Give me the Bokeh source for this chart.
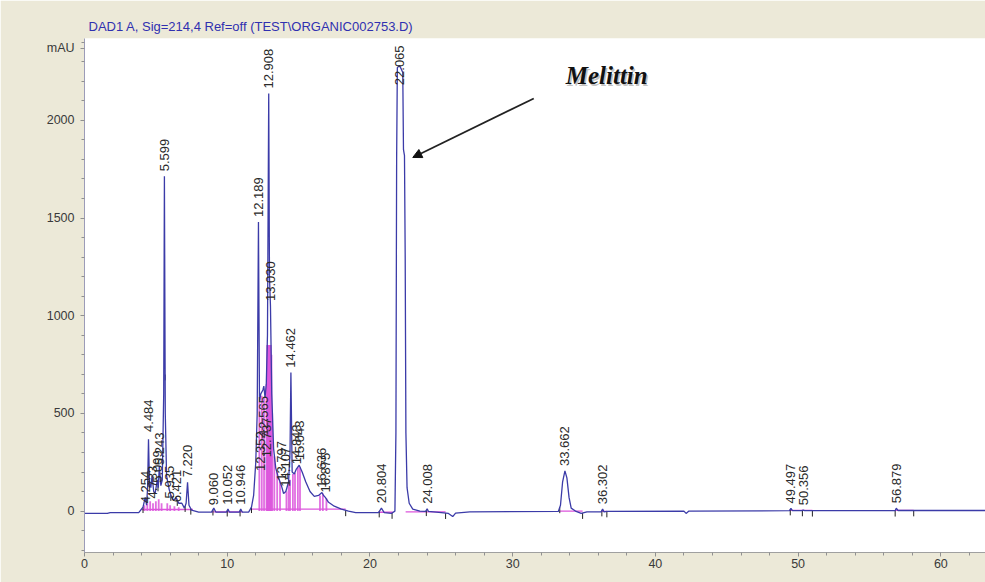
import numpy as np
from bokeh.plotting import figure
from bokeh.models import Range1d, SingleIntervalTicker, FixedTicker, Arrow, NormalHead
from bokeh.core.properties import value
from bokeh.embed import file_html
from bokeh.resources import INLINE

# ---------------- data ----------------
title_text = "DAD1 A, Sig=214,4 Ref=off (TEST\\ORGANIC002753.D)"
y_unit = "mAU"
annotation_text = "Melittin"

y_major = [0, 500, 1000, 1500, 2000]
y_minor = [-200, -100, 100, 200, 300, 400, 600, 700, 800, 900, 1100, 1200, 1300, 1400,
           1600, 1700, 1800, 1900, 2100, 2200, 2300, 2400]
unit_pos = 2370

# chromatogram trace: retention time (min) and signal (mAU)
trace_t = [0.0, 1.6, 1.8, 3.8, 4.1, 4.254, 4.35, 4.42, 4.484, 4.55, 4.65, 4.733, 4.85, 4.95,
           5.099, 5.17, 5.243, 5.35, 5.45, 5.55, 5.599, 5.66, 5.75, 5.935, 6.1, 6.25, 6.421,
           6.6, 6.821, 7.0, 7.12, 7.220, 7.32, 7.5, 8.0, 8.9, 9.060, 9.2, 9.95, 10.052, 10.15,
           10.85, 10.946, 11.05, 11.5, 11.7, 11.85, 12.0, 12.1, 12.189, 12.26, 12.352, 12.5,
           12.565, 12.65, 12.737, 12.82, 12.908, 12.96, 13.030, 13.12, 13.25, 13.4, 13.55,
           13.797, 13.95, 14.107, 14.3, 14.4, 14.462, 14.55, 14.7, 14.843, 15.043, 15.25,
           15.5, 15.8, 16.1, 16.4, 16.636, 16.75, 16.875, 17.1, 17.5, 18.0, 18.5, 19.0, 20.6,
           20.804, 21.0, 21.5, 21.75, 21.82, 21.87, 21.92, 22.065, 22.2, 22.3, 22.35, 22.42,
           22.47, 22.52, 22.6, 22.75, 23.0, 23.5, 23.9, 24.008, 24.1, 25.0, 25.5, 25.8, 26.0,
           27.0, 33.2, 33.35, 33.5, 33.662, 33.8, 33.95, 34.1, 34.4, 34.8, 35.2, 36.2, 36.302,
           36.4, 36.6, 42.0, 42.15, 42.35, 49.4, 49.497, 49.6, 50.25, 50.356, 50.45, 51.0,
           56.8, 56.879, 57.0, 63.2]
trace_mau = [-12, -12, -8, -8, 20, 70, 30, 120, 367, 150, 120, 180, 100, 90,
             160, 120, 230, 130, 160, 600, 1714, 500, 180, 110, 70, 55, 70,
             40, 40, 15, 40, 148, 30, 5, -5, -5, 15, -5, -5, 10, -5,
             -5, 10, -5, -5, 20, 80, 250, 500, 1480, 560, 600, 620,
             640, 580, 650, 900, 2138, 1200, 1050, 600, 320, 220, 180,
             130, 90, 100, 150, 300, 709, 200, 190, 215, 235, 200,
             150, 100, 75, 80, 95, 80, 70, 45, 25, 10, 0, -8, -8,
             15, -8, -12, 0, 400, 1800, 2270, 2280, 2262, 2245, 1850, 1820,
             1300, 400, 120, 40, 10, 0, -2, 12, -2, -8, -12, -28, -10,
             -4, -2, 30, 150, 206, 170, 70, 15, 0, -12, -4, -4, 10,
             -4, -2, 0, -12, 0, 2, 14, 2, 2, 5, 2, 2,
             2, 15, 3, 3]

# integrated peaks: retention-time labels and apex heights (mAU)
peak_labels = ["4.254", "4.484", "4.733", "5.099", "5.243", "5.599", "5.935", "6.421", "7.220",
               "9.060", "10.052", "10.946", "12.189", "12.352", "12.565", "12.737", "12.908",
               "13.030", "13.797", "14.107", "14.462", "14.843", "15.043", "16.636", "16.875",
               "20.804", "22.065", "24.008", "33.662", "36.302", "49.497", "50.356", "56.879"]
peak_rt = [4.254, 4.484, 4.733, 5.099, 5.243, 5.599, 5.935, 6.421, 7.220,
           9.060, 10.052, 10.946, 12.189, 12.352, 12.565, 12.737, 12.908,
           13.030, 13.797, 14.107, 14.462, 14.843, 15.043, 16.636, 16.875,
           20.804, 22.065, 24.008, 33.662, 36.302, 49.497, 50.356, 56.879]
peak_apex = [15, 380, 40, 120, 210, 1714, 40, 20, 148,
             5, 8, 8, 1480, 180, 360, 250, 2138,
             1050, 130, 100, 709, 215, 235, 95, 70,
             15, 2280, 12, 206, 10, 14, 5, 15]

# integration slices (pink drop lines): time (min), height (mAU)
slice_t = [4.2, 4.4, 4.6, 4.8, 5.0, 5.2, 5.4, 5.8, 6.0, 6.3, 6.6,
           12.25, 12.42, 12.58, 12.75, 12.8, 12.85, 12.9, 12.95, 13.0, 13.05, 13.1, 13.15,
           13.3, 13.5, 13.7, 14.15, 14.3, 14.4, 14.6, 14.75, 14.95, 15.1,
           16.5, 16.7, 16.95]
slice_mau = [30, 40, 50, 40, 50, 60, 40, 40, 30, 25, 20,
             560, 590, 580, 650, 850, 850, 850, 850, 850, 850, 800, 500,
             280, 200, 150, 100, 150, 160, 190, 195, 225, 225,
             80, 90, 65]

# integration baselines (pink): start, end (min), level (mAU)
ibase_t0 = [4.0, 8.9, 11.7, 20.6, 22.5, 33.3, 36.2, 49.4, 56.8]
ibase_t1 = [7.6, 11.1, 18.3, 21.6, 25.3, 34.9, 36.6, 51.0, 58.1]
ibase_mau = [8, -4, 10, -6, -4, 0, -2, 4, 4]

# integration event marks (min)
event_t = [4.1, 4.55, 5.15, 5.65, 6.05, 6.5, 7.05, 7.45, 9.0, 10.0, 10.9, 11.7,
           18.3, 20.65, 21.55, 23.95, 25.3, 33.3, 34.9, 36.25, 36.6, 49.45,
           50.3, 51.0, 56.8, 58.1]

# arrow pointing at the Melittin peak (data coordinates)
arrow_from = (31.48, 2112)
arrow_to = (23.0, 1810)
melittin_pos = (33.72, 2228)

# ---------------- figure ----------------
BLUE = "#3b3ba8"
PINK = "#dc55dc"
FONT = "Liberation Sans"

p = figure(width=985, height=582, output_backend="svg", toolbar_location=None,
           x_range=Range1d(0, 63.13), y_range=Range1d(-212, 2419),
           min_border_left=84, min_border_top=38, min_border_bottom=30, min_border_right=0,
           background_fill_color="white", border_fill_color="#ece9d8")
p.grid.visible = False
p.outline_line_color = None

p.title.text = title_text
p.title.align = "left"
p.title.offset = 4
p.title.text_font = FONT
p.title.text_font_size = "13px"
p.title.text_font_style = "normal"
p.title.text_color = "#3030b0"
p.title.standoff = 10

p.xaxis.ticker = SingleIntervalTicker(interval=10, num_minor_ticks=5)
p.yaxis.ticker = FixedTicker(ticks=y_major + [unit_pos], minor_ticks=y_minor)
p.yaxis.major_label_overrides = {unit_pos: y_unit}
for ax in (p.xaxis, p.yaxis):
    ax.major_label_text_font = FONT
    ax.major_label_text_font_size = "12.5px"
    ax.major_label_text_color = "#3a3a3a"
    ax.major_tick_in = 0
    ax.major_tick_out = 4
    ax.minor_tick_in = 0
    ax.minor_tick_out = 3
p.xaxis.axis_line_color = "#a0a0a0"
p.xaxis.major_tick_line_color = "#909090"
p.xaxis.minor_tick_line_color = "#909090"
p.xaxis.major_label_standoff = 2
p.yaxis.axis_line_color = "#9c9cb8"
p.yaxis.major_tick_line_color = "#909090"
p.yaxis.minor_tick_line_color = "#909090"
p.yaxis.major_label_standoff = 6

# pink integration baselines and slices
p.segment(x0=ibase_t0, y0=ibase_mau, x1=ibase_t1, y1=ibase_mau, line_color=PINK, line_width=1.3)
p.segment(x0=slice_t, y0=[0] * len(slice_t), x1=slice_t, y1=slice_mau,
          line_color=PINK, line_width=1.8, line_alpha=0.85)

# event marks below baseline
ev_base = np.interp(event_t, trace_t, trace_mau)
p.segment(x0=event_t, y0=ev_base, x1=event_t, y1=ev_base - 30, line_color="#222222", line_width=1)

# chromatogram
p.line(trace_t, trace_mau, line_color=BLUE, line_width=1.3)

# peak labels (rotated)
label_y = np.minimum(np.array(peak_apex) + 25, 2180)
p.text(x=peak_rt, y=label_y, text=peak_labels, angle=np.pi / 2, text_align="left",
       text_baseline="middle", text_font=value(FONT), text_font_size="13px",
       text_color="#2a2a2a")

# Melittin annotation
for col, off, alpha in (("#9a9a9a", 1.5, 0.6), ("#111111", 0, 1.0)):
    p.text(x=[melittin_pos[0]], y=[melittin_pos[1]], text=[annotation_text], text_align="left",
           text_baseline="alphabetic", text_font=value("Liberation Serif"),
           text_font_style="bold italic", text_font_size="25px", text_color=col,
           x_offset=off, y_offset=off, text_alpha=alpha)
p.add_layout(Arrow(end=NormalHead(size=9, fill_color="#111111", line_color="#111111"),
                   x_start=arrow_from[0], y_start=arrow_from[1], x_end=arrow_to[0], y_end=arrow_to[1],
                   line_width=1.8, line_color="#222222"))

open("out.html", "w").write(file_html(p, INLINE))
